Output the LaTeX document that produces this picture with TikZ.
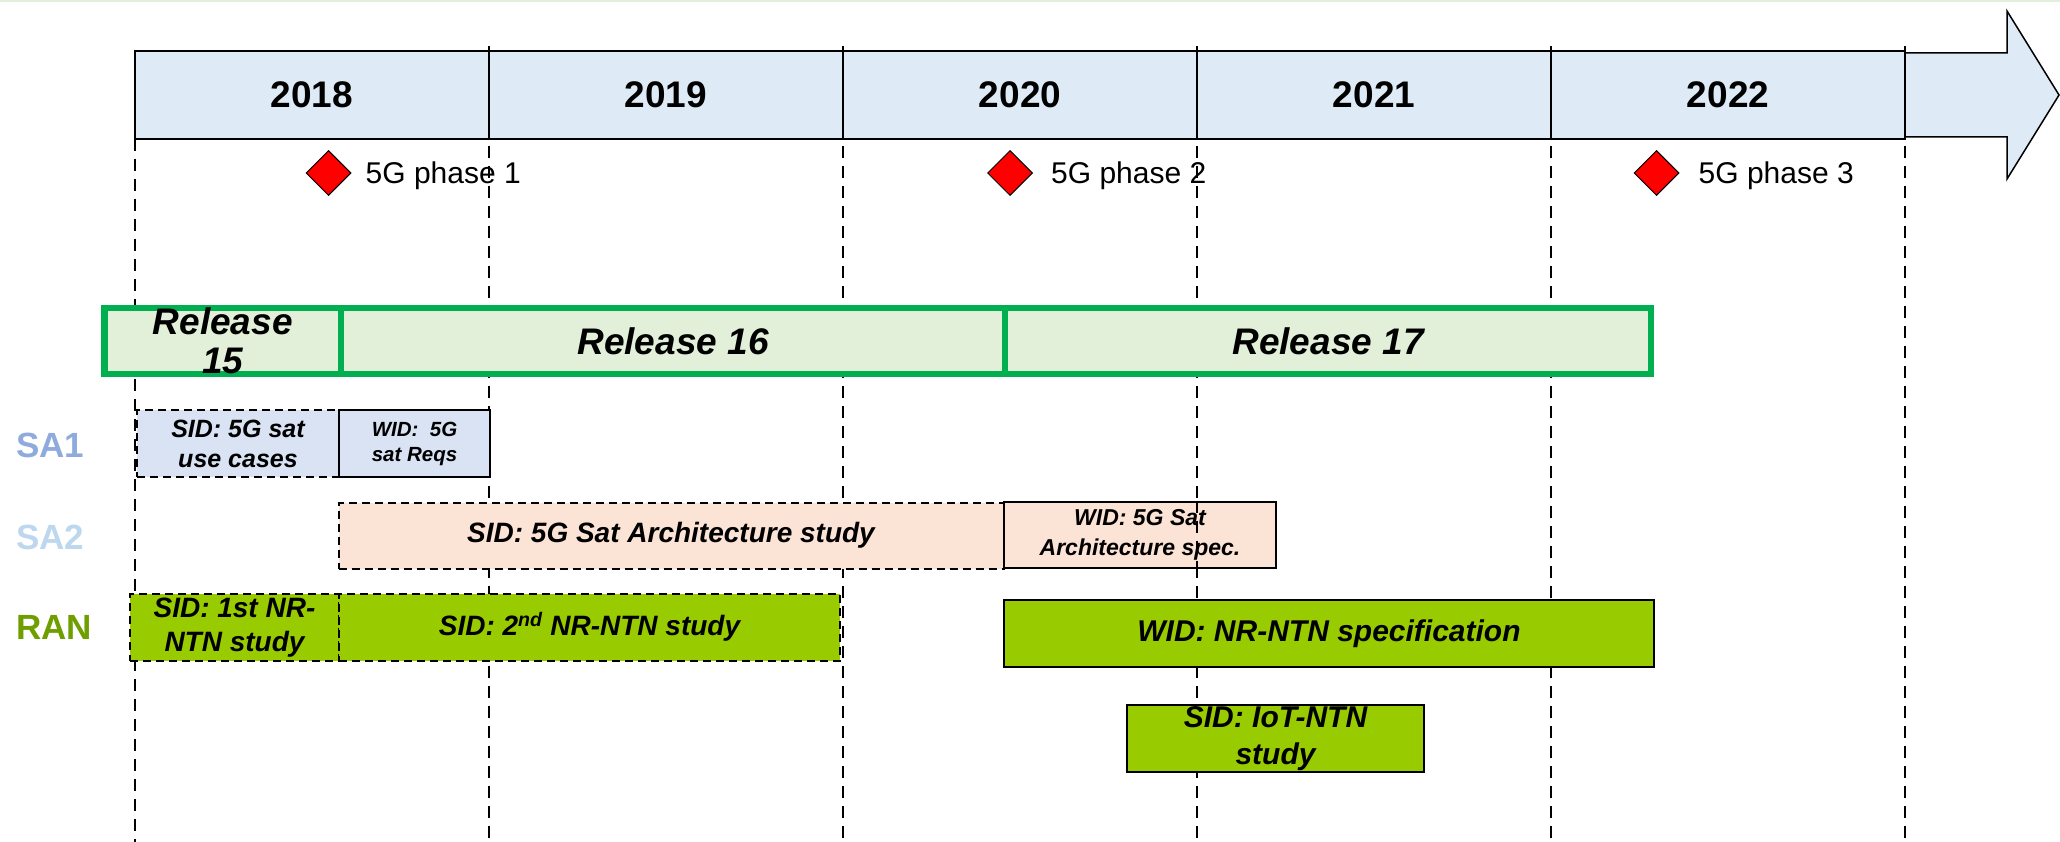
\documentclass[tikz,border=0pt]{standalone}
\usepackage{fontspec}
\setmainfont{Liberation Sans}
\usetikzlibrary{positioning, shapes.geometric}

\definecolor{bandblue}{HTML}{DEEBF7}
\definecolor{relfill}{HTML}{E2F0D9}
\definecolor{relgreen}{HTML}{00B050}
\definecolor{safill}{HTML}{DAE3F3}
\definecolor{archfill}{HTML}{FBE3D6}
\definecolor{ranfill}{HTML}{99CC00}
\definecolor{saonecol}{HTML}{8FAADC}
\definecolor{satwocol}{HTML}{BDD7EE}
\definecolor{rancol}{HTML}{6E9E00}
\definecolor{topgreen}{HTML}{E2EFDA}

\tikzset{
yearcell/.style={
    rectangle,
    draw=black,
    line width=1.5pt,
    fill=bandblue,
    outer sep=0pt,
    minimum width=354pt,
    minimum height=88pt,
    font=\fontsize{37}{40}\selectfont\bfseries
},
relcell/.style={
    rectangle,
    draw=relgreen,
    line width=6.5pt,
    fill=relfill,
    outer sep=0pt,
    inner sep=0pt,
    minimum height=66pt,
    font=\fontsize{37}{39}\selectfont\bfseries\itshape
},
milestone/.style={
    diamond,
    draw=black,
    fill=red,
    line width=1pt,
    aspect=1,
    inner sep=0pt,
    minimum size=45pt
},
phase/.style={
    inner sep=0pt,
    text height=21pt,
    text depth=0pt,
    font=\fontsize{30}{36}\selectfont
},
group/.style={
    anchor=west,
    inner sep=0pt,
    font=\fontsize{35}{40}\selectfont\bfseries
},
workitem/.style={
    rectangle,
    draw=black,
    line width=2pt,
    inner sep=0pt,
    align=center
},
study/.style={workitem, dash pattern=on 8pt off 5pt},
fs/.style 2 args={font=\fontsize{#1}{#2}\selectfont\bfseries\itshape},
yearline/.style={draw=black, line width=1.8pt, dash pattern=on 12pt off 8pt}
}

\begin{document}
\begin{tikzpicture}[x=1pt, y=-1pt, node distance=0pt]

    \useasboundingbox (0,0) rectangle (2060,842);
    \draw[topgreen, line width=2pt] (0,1) -- (2060,1);

    % arrow behind the years
    \draw[fill=bandblue, line width=1.5pt] (1890,53) -- (2007,53) -- (2007,11)
        -- (2059,95) -- (2007,179) -- (2007,137) -- (1890,137);

    % years
    \node[yearcell, anchor=west] (y2018) at (135,95) {2018};
    \node[yearcell, right=of y2018] (y2019) {2019};
    \node[yearcell, right=of y2019] (y2020) {2020};
    \node[yearcell, right=of y2020] (y2021) {2021};
    \node[yearcell, right=of y2021] (y2022) {2022};

    % year lines
    \draw[yearline] (y2018.south west) -- (y2018.south west |- 0,842);
    \foreach \yr in {2019,...,2022}
        \draw[yearline] ([yshift=5pt]y\yr.north west) -- (y\yr.north west |- 0,842);
    \draw[yearline] ([yshift=5pt]y2022.north east) -- (y2022.north east |- 0,842);

    % 5G phases
    \node[milestone] (ph1) at (328.5,173) {};
    \node[phase, right=14pt of ph1] (ph1txt) {5G phase 1};
    \node[milestone] (ph2) at (1010,173) {};
    \node[phase, right=18pt of ph2] (ph2txt) {5G phase 2};
    \node[milestone] (ph3) at (1656.5,173) {};
    \node[phase, right=19pt of ph3] (ph3txt) {5G phase 3};

    % releases
    \node[relcell, minimum width=236.5pt, anchor=west] (r15) at (104.5,341) {};
    \node[relcell, minimum width=664pt, right=of r15] (r16) {Release 16};
    \node[relcell, minimum width=646pt, right=of r16] (r17) {Release 17};
    \node[align=center, inner sep=0pt, font=\fontsize{37}{39}\selectfont\bfseries\itshape]
        (r15txt) at (r15.center) {Release\\15};

    % SA1
    \node[group, text=saonecol] (sa1) at (16,445) {SA1};
    \node[study, fill=safill, minimum width=202pt, minimum height=67pt, fs={25}{30}]
        (sa1sid) at (238,443.5) {SID: 5G sat\\use cases};
    \node[workitem, fill=safill, minimum width=151pt, minimum height=67pt, fs={20.5}{25}]
        (sa1wid) at (414.5,443.5) {WID:\ \ 5G\\sat Reqs};

    % SA2
    \node[group, text=satwocol] (sa2) at (16,537) {SA2};
    \node[study, fill=archfill, minimum width=665pt, minimum height=66pt, fs={28}{34}]
        (sa2sid) at (671,535.5) {SID: 5G Sat Architecture study};
    \node[workitem, fill=archfill, minimum width=272pt, minimum height=66pt, fs={23}{30}]
        (sa2wid) at (1140,534.5) {WID: 5G Sat\\Architecture spec.};
    \draw[yearline] (y2021.west |- sa2wid.north) -- (y2021.west |- sa2wid.south);

    % RAN
    \node[group, text=rancol] (ran) at (16,627) {RAN};
    \node[study, fill=ranfill, minimum width=209pt, minimum height=67pt, fs={28}{34}]
        (ransid1) at (234.5,627.5) {SID: 1st NR-\\NTN study};
    \node[study, fill=ranfill, minimum width=501pt, minimum height=67pt, fs={28}{34}]
        (ransid2) at (589.5,627) {SID: 2\textsuperscript{nd} NR-NTN study};
    \node[workitem, fill=ranfill, minimum width=650pt, minimum height=67pt, fs={30}{36}]
        (ranwid) at (1329,633.5) {WID: NR-NTN specification};
    \node[workitem, fill=ranfill, minimum width=297pt, minimum height=67pt, fs={30}{37}]
        (iotsid) at (1275.5,738.5) {SID: IoT-NTN\\study};

\end{tikzpicture}
\end{document}
